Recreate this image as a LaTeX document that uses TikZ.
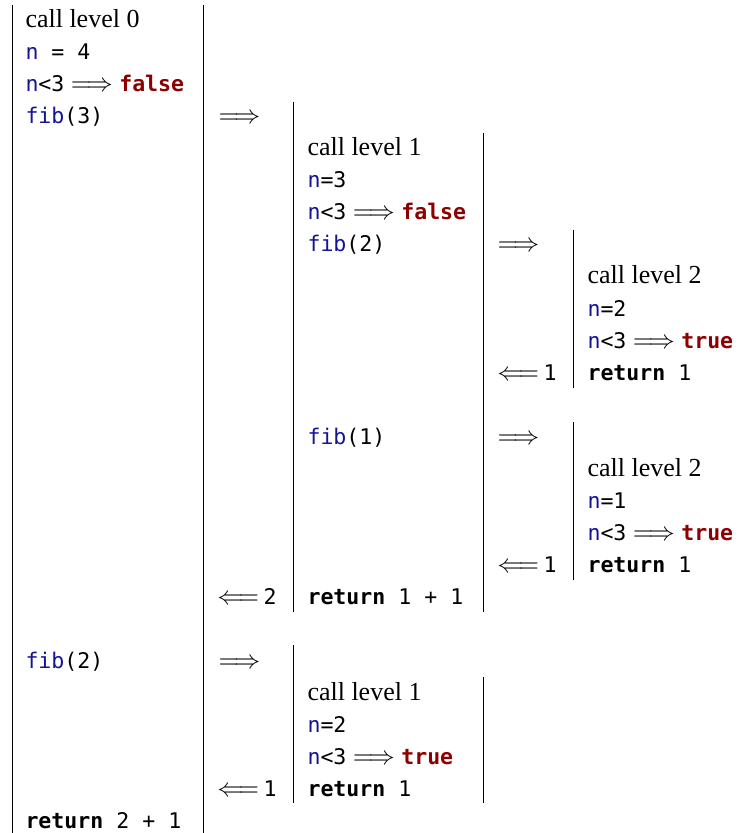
\documentclass[tikz,border=0pt]{standalone}
\usepackage{fontspec}
\setmainfont{Liberation Serif}
\setmonofont[Scale=0.83]{DejaVu Sans Mono}
\definecolor{kwblue}{RGB}{20,20,150}
\definecolor{kwred}{RGB}{140,0,0}
\newcommand{\vn}[1]{\textcolor{kwblue}{\texttt{#1}}}
\newcommand{\tc}[1]{\texttt{#1}}
\newcommand{\kwr}[1]{\textcolor{kwred}{\texttt{\bfseries #1}}}
\newcommand{\kwb}[1]{\texttt{\bfseries #1}}
\begin{document}
\begin{tikzpicture}[x=0.385pt,y=-0.385pt,
  txt/.style={anchor=base west, inner sep=0pt, font=\fontsize{10}{12}\selectfont},
  rt/.style={anchor=base east, inner sep=0pt, font=\fontsize{10}{12}\selectfont},
  bar/.style={line width=0.38pt}]
\useasboundingbox (0,0) rectangle (742,833);
% level 0
\node[txt] (l0a) at (25,28) {call level 0};
\node[txt] (l0b) at (25,60) {\vn{n}\tc{ = 4}};
\node[txt] (l0c) at (25,92) {\vn{n}\tc{<3} $\Longrightarrow$ \kwr{false}};
\node[txt] (l0d) at (25,124) {\vn{fib}\tc{(3)}};
\node[txt] (a1) at (218,124) {$\Longrightarrow$};
% level 1 (first)
\node[txt] (l1a) at (307,156) {call level 1};
\node[txt] (l1b) at (307,188) {\vn{n}\tc{=3}};
\node[txt] (l1c) at (307,220) {\vn{n}\tc{<3} $\Longrightarrow$ \kwr{false}};
\node[txt] (l1d) at (307,252) {\vn{fib}\tc{(2)}};
\node[txt] (a2) at (497,252) {$\Longrightarrow$};
% level 2 (first)
\node[txt] (l2a) at (587,284) {call level 2};
\node[txt] (l2b) at (587,316) {\vn{n}\tc{=2}};
\node[txt] (l2c) at (587,348) {\vn{n}\tc{<3} $\Longrightarrow$ \kwr{true}};
\node[txt] (l2d) at (587,380) {\kwb{return}\tc{ 1}};
\node[rt] (r2) at (557,380) {$\Longleftarrow$\,\tc{1}};
% fib(1)
\node[txt] (l1e) at (307,444) {\vn{fib}\tc{(1)}};
\node[txt] (a3) at (497,444) {$\Longrightarrow$};
% level 2 (second)
\node[txt] (m2a) at (587,476) {call level 2};
\node[txt] (m2b) at (587,508) {\vn{n}\tc{=1}};
\node[txt] (m2c) at (587,540) {\vn{n}\tc{<3} $\Longrightarrow$ \kwr{true}};
\node[txt] (m2d) at (587,572) {\kwb{return}\tc{ 1}};
\node[rt] (r3) at (557,572) {$\Longleftarrow$\,\tc{1}};
% return of level 1
\node[txt] (l1f) at (307,604) {\kwb{return}\tc{ 1 + 1}};
\node[rt] (r1) at (277,604) {$\Longleftarrow$\,\tc{2}};
% fib(2) of level 0
\node[txt] (l0e) at (25,668) {\vn{fib}\tc{(2)}};
\node[txt] (a4) at (218,668) {$\Longrightarrow$};
% level 1 (second)
\node[txt] (m1a) at (307,700) {call level 1};
\node[txt] (m1b) at (307,732) {\vn{n}\tc{=2}};
\node[txt] (m1c) at (307,764) {\vn{n}\tc{<3} $\Longrightarrow$ \kwr{true}};
\node[txt] (m1d) at (307,796) {\kwb{return}\tc{ 1}};
\node[rt] (r4) at (277,796) {$\Longleftarrow$\,\tc{1}};
\node[txt] (l0f) at (25,828) {\kwb{return}\tc{ 2 + 1}};
% bars
\draw[bar] (12,5) -- (12,840);
\draw[bar] (203,5) -- (203,840);
\draw[bar] (293,102) -- (293,612);
\draw[bar] (483,133) -- (483,612);
\draw[bar] (573,230) -- (573,388);
\draw[bar] (573,422) -- (573,580);
\draw[bar] (293,645) -- (293,803);
\draw[bar] (483,677) -- (483,803);
\end{tikzpicture}
\end{document}
